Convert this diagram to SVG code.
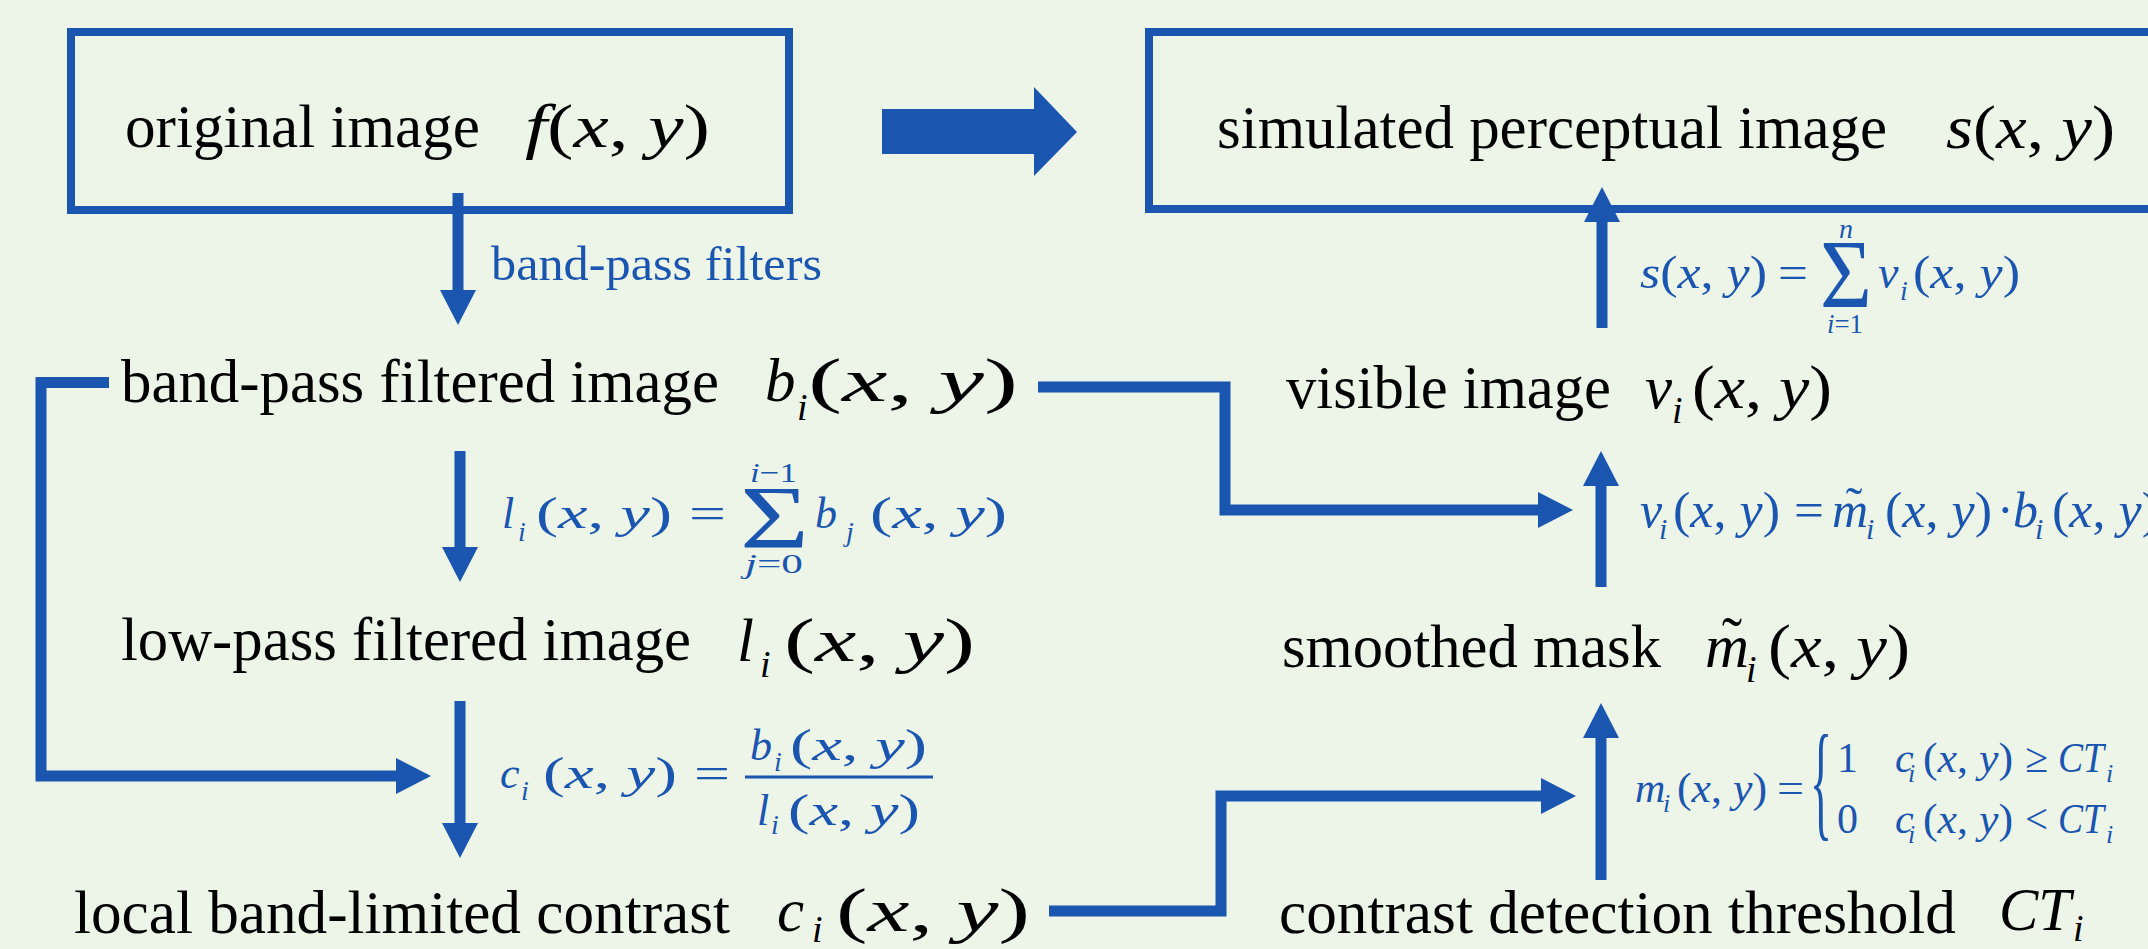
<svg xmlns="http://www.w3.org/2000/svg" width="2148" height="949" viewBox="0 0 2148 949">
<defs>
<style>
.t{font-family:"Liberation Serif","Times New Roman",serif;font-size:61px;fill:#000}
.i{font-style:italic}
.s38{font-size:38px}
.f{font-family:"Liberation Serif","Times New Roman",serif;fill:#1A56B0}
.box{fill:none;stroke:#1A56B0;stroke-width:8}
.conn{fill:none;stroke:#1A56B0;stroke-width:11;stroke-linejoin:miter}
</style>
<marker id="ah" markerUnits="userSpaceOnUse" markerWidth="35" markerHeight="36" viewBox="0 0 35 36" refX="0" refY="18" orient="auto"><path d="M0,0 L35,18 L0,36 Z" fill="#1A56B0"/></marker>
</defs>
<rect x="0" y="0" width="2148" height="949" fill="#EDF5E9"/>

<g id="n-original">
<rect class="box" x="71" y="32" width="718" height="178"/>
<text class="t" x="125" y="147" textLength="355" lengthAdjust="spacingAndGlyphs">original image</text>
<text class="t" x="525" y="147" textLength="185" lengthAdjust="spacingAndGlyphs"><tspan class="i">f</tspan>(<tspan class="i">x</tspan>, <tspan class="i">y</tspan>)</text>
</g>

<g id="n-simulated">
<rect class="box" x="1149" y="32" width="1010" height="177"/>
<text class="t" x="1217" y="148" textLength="670" lengthAdjust="spacingAndGlyphs">simulated perceptual image</text>
<text class="t" x="1946" y="148" textLength="169" lengthAdjust="spacingAndGlyphs"><tspan class="i">s</tspan>(<tspan class="i">x</tspan>, <tspan class="i">y</tspan>)</text>
</g>

<g id="n-bandpass">
<text class="t" x="121" y="402" textLength="598" lengthAdjust="spacingAndGlyphs">band-pass filtered image</text>
<text class="t i" x="765" y="401">b</text>
<text class="t i s38" x="797" y="420">i</text>
<text class="t" x="808" y="401" textLength="210" lengthAdjust="spacingAndGlyphs">(<tspan class="i">x</tspan>, <tspan class="i">y</tspan>)</text>
</g>

<g id="n-lowpass">
<text class="t" x="121" y="660" textLength="570" lengthAdjust="spacingAndGlyphs">low-pass filtered image</text>
<text class="t i" x="737" y="661">l</text>
<text class="t i s38" x="760" y="677">i</text>
<text class="t" x="784" y="661" textLength="191" lengthAdjust="spacingAndGlyphs">(<tspan class="i">x</tspan>, <tspan class="i">y</tspan>)</text>
</g>

<g id="n-contrast">
<text class="t" x="74" y="933" textLength="656" lengthAdjust="spacingAndGlyphs">local band-limited contrast</text>
<text class="t i" x="777" y="931">c</text>
<text class="t i s38" x="812" y="942">i</text>
<text class="t" x="836" y="931" textLength="194" lengthAdjust="spacingAndGlyphs">(<tspan class="i">x</tspan>, <tspan class="i">y</tspan>)</text>
</g>

<g id="n-visible">
<text class="t" x="1286" y="408" textLength="325" lengthAdjust="spacingAndGlyphs">visible image</text>
<text class="t i" x="1645" y="408">v</text>
<text class="t i s38" x="1672" y="423">i</text>
<text class="t" x="1692" y="408" textLength="140" lengthAdjust="spacingAndGlyphs">(<tspan class="i">x</tspan>, <tspan class="i">y</tspan>)</text>
</g>

<g id="n-mask">
<text class="t" x="1282" y="667" textLength="379" lengthAdjust="spacingAndGlyphs">smoothed mask</text>
<text class="t i" x="1705" y="667">m</text>
<text class="t" x="1732" y="660" text-anchor="middle">˜</text>
<text class="t i s38" x="1746" y="682">i</text>
<text class="t" x="1768" y="667" textLength="142" lengthAdjust="spacingAndGlyphs">(<tspan class="i">x</tspan>, <tspan class="i">y</tspan>)</text>
</g>

<g id="n-threshold">
<text class="t" x="1279" y="933" textLength="677" lengthAdjust="spacingAndGlyphs">contrast detection threshold</text>
<text class="t i" x="1999" y="930" textLength="72" lengthAdjust="spacingAndGlyphs">CT</text>
<text class="t i s38" x="2073" y="941">i</text>
</g>

<g id="connectors">
<polygon points="882,109 1034,109 1034,87 1077,132 1034,176 1034,154 882,154" fill="#1A56B0"/>
<path class="conn" d="M458,193 V290" marker-end="url(#ah)"/>
<path class="conn" d="M460,451 V547" marker-end="url(#ah)"/>
<path class="conn" d="M460,701 V823" marker-end="url(#ah)"/>
<path class="conn" d="M109,382.5 H41 V776 H396" marker-end="url(#ah)"/>
<path class="conn" d="M1038,387 H1225 V510 H1538" marker-end="url(#ah)"/>
<path class="conn" d="M1049,911 H1221 V796 H1541" marker-end="url(#ah)"/>
<path class="conn" d="M1602,328 V222" marker-end="url(#ah)"/>
<path class="conn" d="M1601,587 V486" marker-end="url(#ah)"/>
<path class="conn" d="M1601,880 V738" marker-end="url(#ah)"/>
</g>

<g id="edge-labels">
<text class="f" x="491" y="280" font-size="49" textLength="331" lengthAdjust="spacingAndGlyphs">band-pass filters</text>

<g id="eq-l" font-size="44">
<text class="f i" x="502" y="528">l</text>
<text class="f i" x="518" y="541" font-size="28">i</text>
<text class="f" x="536" y="528" textLength="136" lengthAdjust="spacingAndGlyphs">(<tspan class="i">x</tspan>, <tspan class="i">y</tspan>)</text>
<text class="f" x="689" y="528" textLength="37" lengthAdjust="spacingAndGlyphs">=</text>
<text class="f" x="740" y="547" font-size="88" textLength="69" lengthAdjust="spacingAndGlyphs">Σ</text>
<text class="f" x="750" y="482" font-size="28" textLength="47" lengthAdjust="spacingAndGlyphs"><tspan class="i">i</tspan>−1</text>
<text class="f" x="745" y="573" font-size="28" textLength="58" lengthAdjust="spacingAndGlyphs"><tspan class="i">j</tspan>=0</text>
<text class="f i" x="815" y="528">b</text>
<text class="f i" x="846" y="541" font-size="28">j</text>
<text class="f" x="870" y="528" textLength="137" lengthAdjust="spacingAndGlyphs">(<tspan class="i">x</tspan>, <tspan class="i">y</tspan>)</text>
</g>

<g id="eq-c" font-size="44">
<text class="f i" x="500" y="788">c</text>
<text class="f i" x="521" y="800" font-size="28">i</text>
<text class="f" x="543" y="788" textLength="134" lengthAdjust="spacingAndGlyphs">(<tspan class="i">x</tspan>, <tspan class="i">y</tspan>)</text>
<text class="f" x="694" y="788" textLength="36" lengthAdjust="spacingAndGlyphs">=</text>
<rect x="745" y="775.5" width="188" height="3" fill="#1A56B0"/>
<text class="f i" x="750" y="760">b</text>
<text class="f i" x="774" y="771" font-size="28">i</text>
<text class="f" x="790" y="760" textLength="137" lengthAdjust="spacingAndGlyphs">(<tspan class="i">x</tspan>, <tspan class="i">y</tspan>)</text>
<text class="f i" x="757" y="825">l</text>
<text class="f i" x="771" y="834" font-size="28">i</text>
<text class="f" x="788" y="825" textLength="132" lengthAdjust="spacingAndGlyphs">(<tspan class="i">x</tspan>, <tspan class="i">y</tspan>)</text>
</g>

<g id="eq-s" font-size="46">
<text class="f" x="1640" y="288" textLength="127" lengthAdjust="spacingAndGlyphs"><tspan class="i">s</tspan>(<tspan class="i">x</tspan>, <tspan class="i">y</tspan>)</text>
<text class="f" x="1778" y="288" textLength="30" lengthAdjust="spacingAndGlyphs">=</text>
<text class="f" x="1820" y="307" font-size="98" textLength="52" lengthAdjust="spacingAndGlyphs">Σ</text>
<text class="f i" x="1839" y="238" font-size="28">n</text>
<text class="f" x="1827" y="333" font-size="28" textLength="36" lengthAdjust="spacingAndGlyphs"><tspan class="i">i</tspan>=1</text>
<text class="f i" x="1878" y="288">v</text>
<text class="f i" x="1900" y="300" font-size="28">i</text>
<text class="f" x="1913" y="288" textLength="107" lengthAdjust="spacingAndGlyphs">(<tspan class="i">x</tspan>, <tspan class="i">y</tspan>)</text>
</g>

<g id="eq-v" font-size="50">
<text class="f i" x="1640" y="527">v</text>
<text class="f i" x="1659" y="539" font-size="30">i</text>
<text class="f" x="1673" y="527" textLength="107" lengthAdjust="spacingAndGlyphs">(<tspan class="i">x</tspan>, <tspan class="i">y</tspan>)</text>
<text class="f" x="1794" y="527" textLength="30" lengthAdjust="spacingAndGlyphs">=</text>
<text class="f i" x="1832" y="527">m</text>
<text class="f" x="1854" y="522" text-anchor="middle">˜</text>
<text class="f i" x="1866" y="539" font-size="30">i</text>
<text class="f" x="1885" y="527" textLength="107" lengthAdjust="spacingAndGlyphs">(<tspan class="i">x</tspan>, <tspan class="i">y</tspan>)</text>
<text class="f" x="1997" y="527">·</text>
<text class="f i" x="2013" y="527">b</text>
<text class="f i" x="2035" y="539" font-size="30">i</text>
<text class="f" x="2052" y="527" textLength="107" lengthAdjust="spacingAndGlyphs">(<tspan class="i">x</tspan>, <tspan class="i">y</tspan>)</text>
</g>

<g id="eq-m" font-size="42">
<text class="f i" x="1635" y="802">m</text>
<text class="f i" x="1663" y="812" font-size="26">i</text>
<text class="f" x="1677" y="802" textLength="90" lengthAdjust="spacingAndGlyphs">(<tspan class="i">x</tspan>, <tspan class="i">y</tspan>)</text>
<text class="f" x="1777" y="802" textLength="27" lengthAdjust="spacingAndGlyphs">=</text>
<text class="f" x="1810" y="824" font-size="129" textLength="22" lengthAdjust="spacingAndGlyphs">{</text>
<text class="f" x="1837" y="772">1</text>
<text class="f i" x="1895" y="772">c</text>
<text class="f i" x="1908" y="782" font-size="26">i</text>
<text class="f" x="1923" y="772" textLength="90" lengthAdjust="spacingAndGlyphs">(<tspan class="i">x</tspan>, <tspan class="i">y</tspan>)</text>
<text class="f" x="2025" y="772" textLength="23" lengthAdjust="spacingAndGlyphs">≥</text>
<text class="f i" x="2058" y="772" textLength="46" lengthAdjust="spacingAndGlyphs">CT</text>
<text class="f i" x="2106" y="782" font-size="26">i</text>
<text class="f" x="1837" y="833">0</text>
<text class="f i" x="1895" y="833">c</text>
<text class="f i" x="1908" y="843" font-size="26">i</text>
<text class="f" x="1923" y="833" textLength="90" lengthAdjust="spacingAndGlyphs">(<tspan class="i">x</tspan>, <tspan class="i">y</tspan>)</text>
<text class="f" x="2025" y="833" textLength="23" lengthAdjust="spacingAndGlyphs">&lt;</text>
<text class="f i" x="2058" y="833" textLength="46" lengthAdjust="spacingAndGlyphs">CT</text>
<text class="f i" x="2106" y="843" font-size="26">i</text>
</g>
</g>
</svg>
